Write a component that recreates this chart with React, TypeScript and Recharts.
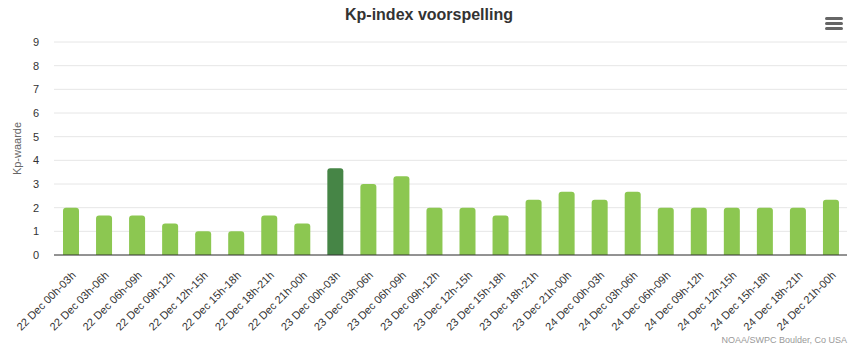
import React from 'react';
import { BarChart, Bar, XAxis, YAxis, CartesianGrid, Cell } from 'recharts';

const categories = [
  '22 Dec 00h-03h', '22 Dec 03h-06h', '22 Dec 06h-09h', '22 Dec 09h-12h',
  '22 Dec 12h-15h', '22 Dec 15h-18h', '22 Dec 18h-21h', '22 Dec 21h-00h',
  '23 Dec 00h-03h', '23 Dec 03h-06h', '23 Dec 06h-09h', '23 Dec 09h-12h',
  '23 Dec 12h-15h', '23 Dec 15h-18h', '23 Dec 18h-21h', '23 Dec 21h-00h',
  '24 Dec 00h-03h', '24 Dec 03h-06h', '24 Dec 06h-09h', '24 Dec 09h-12h',
  '24 Dec 12h-15h', '24 Dec 15h-18h', '24 Dec 18h-21h', '24 Dec 21h-00h',
];

const kpValues = [
  2, 1.67, 1.67, 1.33, 1, 1, 1.67, 1.33,
  3.67, 3, 3.33, 2, 2, 1.67, 2.33, 2.67,
  2.33, 2.67, 2, 2, 2, 2, 2, 2.33,
];

const yTicks = [0, 1, 2, 3, 4, 5, 6, 7, 8, 9];

const title = 'Kp-index voorspelling';
const yTitle = 'Kp-waarde';
const credits = 'NOAA/SWPC Boulder, Co USA';

const data = categories.map((c, i) => ({ name: c, kp: kpValues[i] }));

const FONT = '"Liberation Sans", Arial, Helvetica, sans-serif';

const colorFor = (v: number) => (v >= 3.5 ? '#468546' : '#8cc751');

const XTick = (props: any) => {
  const { x, y, payload } = props;
  return (
    <g transform={`translate(${x + 6},${y + 13})`}>
      <text
        transform="rotate(-45)"
        textAnchor="end"
        fontSize={11}
        fontFamily={FONT}
        fill="#333333"
      >
        {payload.value}
      </text>
    </g>
  );
};

const YTick = (props: any) => {
  const { y, payload } = props;
  return (
    <text x={39} y={y + 4} textAnchor="end" fontSize={11} fontFamily={FONT} fill="#333333">
      {payload.value}
    </text>
  );
};

const YTitle = (props: any) => {
  const vb = props.viewBox || {};
  const cy = (vb.y ?? 42) + (vb.height ?? 213) / 2;
  const cx = 21;
  return (
    <text
      x={cx}
      y={cy}
      transform={`rotate(-90, ${cx}, ${cy})`}
      textAnchor="middle"
      fontSize={11}
      fontFamily={FONT}
      fill="#666666"
    >
      {yTitle}
    </text>
  );
};

export default function App() {
  return (
    <div style={{ position: 'absolute', left: 0, top: 0, width: 858, height: 353, background: '#fff' }}>
      <div
        style={{
          position: 'absolute',
          left: 0,
          top: 6,
          width: 858,
          textAlign: 'center',
          fontFamily: FONT,
          fontWeight: 'bold',
          fontSize: 16,
          color: '#333333',
        }}
      >
        {title}
      </div>
      <div
        style={{
          position: 'absolute',
          left: 0,
          top: 0,
          width: 858,
          height: 353,
        }}
      >
        <BarChart
          width={858}
          height={353}
          data={data}
          margin={{ top: 42, right: 11, bottom: 0, left: 0 }}
          barCategoryGap={0}
        >
          <CartesianGrid vertical={false} stroke="#e6e6e6" />
          <XAxis
            dataKey="name"
            interval={0}
            height={98}
            tick={<XTick />}
            tickLine={false}
            axisLine={{ stroke: '#333333', strokeWidth: 1 }}
          />
          <YAxis
            width={54}
            domain={[0, 9]}
            ticks={yTicks}
            interval={0}
            tick={<YTick />}
            axisLine={false}
            tickLine={false}
            label={<YTitle />}
          />
          <Bar dataKey="kp" barSize={16} radius={[3, 3, 0, 0]} isAnimationActive={false}>
            {data.map((d, i) => (
              <Cell key={i} fill={colorFor(d.kp)} />
            ))}
          </Bar>
        </BarChart>
      </div>
      <div
        style={{
          position: 'absolute',
          right: 11,
          top: 335,
          fontFamily: FONT,
          fontSize: 9,
          color: '#999999',
        }}
      >
        {credits}
      </div>
      <svg style={{ position: 'absolute', left: 824, top: 16 }} width={22} height={18}>
        <rect x={1} y={1} width={18} height={3} rx={1.5} fill="#666666" />
        <rect x={1} y={6} width={18} height={3} rx={1.5} fill="#666666" />
        <rect x={1} y={11} width={18} height={3} rx={1.5} fill="#666666" />
      </svg>
    </div>
  );
}
